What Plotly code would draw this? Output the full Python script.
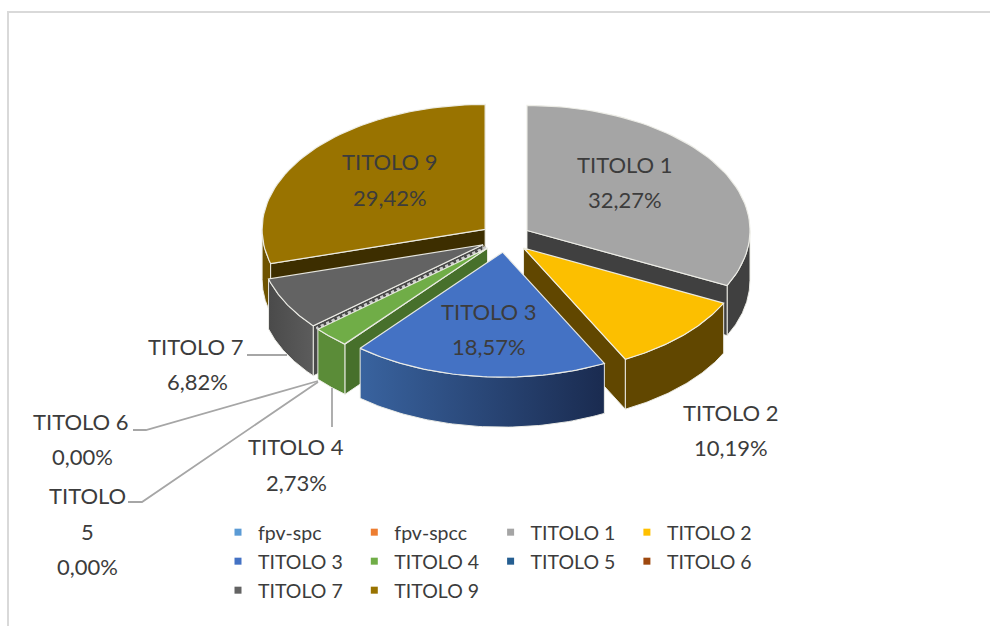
import math
import plotly.graph_objects as go

# ---- data ----
slice_names = ["TITOLO 1", "TITOLO 2", "TITOLO 3", "TITOLO 4", "TITOLO 5", "TITOLO 6", "TITOLO 7", "TITOLO 9"]
slice_values = [32.27, 10.19, 18.57, 2.73, 0.00, 0.00, 6.82, 29.42]
top_colors = ["#a5a5a5", "#fcbf00", "#4472c4", "#70ad47", "#255e91", "#9e480e", "#636363", "#997300"]
legend_rows = [["fpv-spc", "fpv-spcc", "TITOLO 1", "TITOLO 2"],
               ["TITOLO 3", "TITOLO 4", "TITOLO 5", "TITOLO 6"],
               ["TITOLO 7", "TITOLO 9"]]
legend_colors = {"fpv-spc": "#5b9bd5", "fpv-spcc": "#ed7d31", "TITOLO 1": "#a5a5a5", "TITOLO 2": "#ffc000",
                 "TITOLO 3": "#4472c4", "TITOLO 4": "#70ad47", "TITOLO 5": "#255e91", "TITOLO 6": "#9e480e",
                 "TITOLO 7": "#636363", "TITOLO 9": "#997300"}

# ---- geometry of the tilted pie (layout, not data) ----
CX, CY, RX, RY, EXPL, DEPTH = 505.4, 238.0, 223.0, 125.0, 0.114, 50.0
TEXT = "#3c3c3c"
FONT = "Lato"
EDGE = "rgba(238,238,232,0.95)"

total = sum(slice_values)
angles = {}
a = 0.0
for n, v in zip(slice_names, slice_values):
    angles[n] = (a, a + v / total * 360)
    a += v / total * 360


def apex(name):
    s, e = angles[name]
    m = math.radians((s + e) / 2)
    return CX + EXPL * RX * math.sin(m), CY - EXPL * RY * math.cos(m)


def rim(name, deg):
    ax, ay = apex(name)
    t = math.radians(deg)
    return ax + RX * math.sin(t), ay - RY * math.cos(t)


def arc(name, d0, d1, n=60):
    return [rim(name, d0 + (d1 - d0) * i / n) for i in range(n + 1)]


fig = go.Figure()


def poly(pts, color, edge=EDGE, width=1.0, gradient=None):
    xs = [p[0] for p in pts] + [pts[0][0]]
    ys = [p[1] for p in pts] + [pts[0][1]]
    kw = dict(fillgradient=gradient) if gradient else dict(fillcolor=color)
    fig.add_trace(go.Scatter(x=xs, y=ys, mode="lines", fill="toself", showlegend=False, hoverinfo="skip",
                             line=dict(color=edge, width=width), **kw))


def outer_wall(name, d0, d1, color, gradient=None):
    top = arc(name, d0, d1)
    bottom = [(x, y + DEPTH) for x, y in reversed(top)]
    poly(top + bottom, color, gradient=gradient)


def cut_wall(name, deg, color):
    ax, ay = apex(name)
    rx, ry = rim(name, deg)
    poly([(ax, ay), (rx, ry), (rx, ry + DEPTH), (ax, ay + DEPTH)], color)


def top_face(name):
    s, e = angles[name]
    idx = slice_names.index(name)
    poly([apex(name)] + arc(name, s, e), top_colors[idx], width=1.2)


def hgrad(c0, c1):
    return dict(type="horizontal", colorscale=[[0, c0], [1, c1]])


# painter's order: back to front
s, e = angles["TITOLO 9"]
outer_wall("TITOLO 9", s, 270, "#6e5300")
cut_wall("TITOLO 9", s, "#3d2e00")
top_face("TITOLO 9")

s, e = angles["TITOLO 1"]
outer_wall("TITOLO 1", 90, e, "#404040")
cut_wall("TITOLO 1", e, "#404040")
top_face("TITOLO 1")

s, e = angles["TITOLO 7"]
outer_wall("TITOLO 7", s, e, "#555555", gradient=hgrad("#4a4a4a", "#5c5c5c"))
cut_wall("TITOLO 7", s, "#4a4a4a")
top_face("TITOLO 7")

# the two empty slices show only as a dotted seam
for zero in ["TITOLO 5", "TITOLO 6"]:
    s, _ = angles[zero]
    pts = [apex(zero), rim(zero, s)]
    fig.add_trace(go.Scatter(x=[p[0] for p in pts], y=[p[1] for p in pts], mode="lines", showlegend=False,
                             hoverinfo="skip", line=dict(color="#c9c9c9", width=2.5, dash="dot")))

s, e = angles["TITOLO 2"]
outer_wall("TITOLO 2", s, e, "#614700")
cut_wall("TITOLO 2", e, "#614700")
top_face("TITOLO 2")

s, e = angles["TITOLO 4"]
outer_wall("TITOLO 4", s, e, "#5b8c38")
cut_wall("TITOLO 4", s, "#47702b")
top_face("TITOLO 4")

s, e = angles["TITOLO 3"]
outer_wall("TITOLO 3", s, e, "#2a4a85", gradient=hgrad("#39639f", "#1a2b50"))
top_face("TITOLO 3")

# ---- legend: one real legend per row ----
LEG_X0, LEG_STEP = 218, 131.3
LEG_Y = [513, 542, 571]
layout_legends = {}
for r, row in enumerate(legend_rows):
    key = "legend" if r == 0 else f"legend{r + 1}"
    for name in row:
        fig.add_trace(go.Scatter(x=[None], y=[None], mode="markers", name=name, legend=key,
                                 marker=dict(symbol="square", size=7, color=legend_colors[name])))
    layout_legends[key] = dict(orientation="h", x=LEG_X0 / 990, y=1 - LEG_Y[r] / 626, xanchor="left", yanchor="top",
                               entrywidth=LEG_STEP - 40, entrywidthmode="pixels", itemclick=False,
                               itemdoubleclick=False, bgcolor="rgba(0,0,0,0)",
                               font=dict(family=FONT, size=19.5, color=TEXT))


# ---- labels ----
def pct(name):
    return f"{slice_values[slice_names.index(name)]:.2f}".replace(".", ",") + "%"


label_lines = [
    ("TITOLO 1", 625, 164), (pct("TITOLO 1"), 625, 199),
    ("TITOLO 9", 390, 161), (pct("TITOLO 9"), 390, 197),
    ("TITOLO 3", 489, 311), (pct("TITOLO 3"), 489, 346),
    ("TITOLO 2", 731, 412), (pct("TITOLO 2"), 731, 447),
    ("TITOLO 7", 196, 346), (pct("TITOLO 7"), 197, 381),
    ("TITOLO 6", 81, 421), (pct("TITOLO 6"), 82, 456),
    ("TITOLO", 87, 495), ("5", 87, 531), (pct("TITOLO 5"), 87, 566),
    ("TITOLO 4", 296, 446), (pct("TITOLO 4"), 296, 482),
]
annotations = [dict(x=x, y=y, xref="x", yref="y", text=t, showarrow=False, xanchor="center", yanchor="middle",
                    font=dict(family=FONT, size=22, color=TEXT)) for t, x, y in label_lines]

# ---- leader lines ----
leaders = [[(247, 355), (287, 355)],
           [(133, 430), (146, 430), (318, 381)],
           [(128, 502), (142, 502), (318, 382)],
           [(332, 427), (332, 388)]]
for pts in leaders:
    fig.add_trace(go.Scatter(x=[p[0] for p in pts], y=[p[1] for p in pts], mode="lines", showlegend=False,
                             hoverinfo="skip", line=dict(color="#a6a6a6", width=1.8)))

# ---- chart frame: only the top and left edges show ----
shapes = [dict(type="line", xref="x", yref="y", x0=8, x1=990, y0=12, y1=12, line=dict(color="#d9d9d9", width=2)),
          dict(type="line", xref="x", yref="y", x0=8, x1=8, y0=11, y1=626, line=dict(color="#d9d9d9", width=2))]

fig.update_layout(width=990, height=626, margin=dict(l=0, r=0, t=0, b=0), paper_bgcolor="white", plot_bgcolor="white",
                  xaxis=dict(range=[0, 990], visible=False, fixedrange=True),
                  yaxis=dict(range=[626, 0], visible=False, fixedrange=True),
                  annotations=annotations, shapes=shapes, hovermode=False, **layout_legends)
fig.write_html("out.html", config={"displayModeBar": False},
               post_script="document.body.style.margin='0';document.body.style.overflow='hidden';")
